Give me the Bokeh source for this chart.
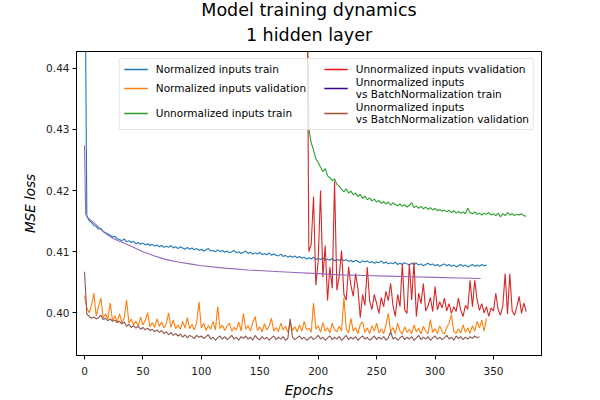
from bokeh.plotting import figure
from bokeh.models import Range1d, FixedTicker, NumeralTickFormatter, Legend, LegendItem, Title
from bokeh.embed import file_html
from bokeh.resources import INLINE

# ---------------- data ----------------
norm_epochs = list(range(0, 345, 2))
unnorm_epochs = list(range(190, 379, 2))
bn_val_epochs = list(range(0, 339, 2))
bn_train_epochs = [0, 1, 2, 3, 5, 8, 12, 16, 20, 25, 30, 35, 40, 50, 60, 70, 80, 90, 100,
                   120, 140, 160, 180, 200, 220, 240, 260, 280, 300, 320, 339]

norm_train = [
    0.4700, 0.4158, 0.4151, 0.4148, 0.4143, 0.4141, 0.4137, 0.4138, 0.4133, 0.4131,
    0.4129, 0.4127, 0.4124, 0.4125, 0.4121, 0.4120, 0.4118, 0.4121, 0.4116, 0.4118,
    0.4115, 0.4117, 0.4113, 0.4115, 0.4112, 0.4114, 0.4111, 0.4113, 0.4110, 0.4112,
    0.4109, 0.4111, 0.4108, 0.4110, 0.4107, 0.4109, 0.4107, 0.4110, 0.4106, 0.4108,
    0.4105, 0.4108, 0.4106, 0.4104, 0.4107, 0.4104, 0.4106, 0.4103, 0.4105, 0.4102,
    0.4104, 0.4101, 0.4103, 0.4105, 0.4101, 0.4102, 0.4100, 0.4103, 0.4100, 0.4102,
    0.4099, 0.4101, 0.4098, 0.4100, 0.4102, 0.4098, 0.4100, 0.4097, 0.4099, 0.4101,
    0.4097, 0.4099, 0.4096, 0.4098, 0.4096, 0.4099, 0.4095, 0.4097, 0.4095, 0.4098,
    0.4094, 0.4096, 0.4094, 0.4093, 0.4096, 0.4092, 0.4094, 0.4091, 0.4093, 0.4091,
    0.4093, 0.4090, 0.4092, 0.4089, 0.4091, 0.4088, 0.4090, 0.4088, 0.4091, 0.4087,
    0.4089, 0.4087, 0.4090, 0.4086, 0.4088, 0.4086, 0.4089, 0.4085, 0.4087, 0.4086,
    0.4088, 0.4085, 0.4087, 0.4084, 0.4086, 0.4083, 0.4086, 0.4084, 0.4082, 0.4085,
    0.4083, 0.4085, 0.4082, 0.4084, 0.4081, 0.4083, 0.4082, 0.4085, 0.4081, 0.4083,
    0.4080, 0.4082, 0.4080, 0.4083, 0.4079, 0.4081, 0.4079, 0.4082, 0.4080, 0.4078,
    0.4081, 0.4079, 0.4081, 0.4078, 0.4080, 0.4077, 0.4079, 0.4081, 0.4078, 0.4080,
    0.4077, 0.4079, 0.4076, 0.4078, 0.4080, 0.4077, 0.4079, 0.4076, 0.4078, 0.4075,
    0.4077, 0.4079, 0.4076, 0.4078, 0.4075, 0.4077, 0.4079, 0.4076, 0.4078, 0.4076,
    0.4079, 0.4077, 0.4078,
]

norm_val = [
    0.4028, 0.4008, 0.4000, 0.4012, 0.4032, 0.3995, 0.4010, 0.4024, 0.3992, 0.3998,
    0.3990, 0.4016, 0.3987, 0.3995, 0.3985, 0.3998, 0.3984, 0.3992, 0.4021, 0.3983,
    0.3990, 0.3980, 0.3986, 0.3978, 0.3993, 0.3980, 0.3988, 0.4000, 0.3977, 0.3984,
    0.3976, 0.3990, 0.3978, 0.3985, 0.3975, 0.3982, 0.4000, 0.3976, 0.3988, 0.3974,
    0.3980, 0.3973, 0.3986, 0.3975, 0.3992, 0.3974, 0.3981, 0.3972, 0.3984, 0.4018,
    0.3975, 0.3983, 0.3971, 0.3979, 0.3973, 0.3986, 0.3972, 0.4010, 0.3974, 0.3980,
    0.3971, 0.3978, 0.3983, 0.3970, 0.3976, 0.3972, 0.3985, 0.3970, 0.3999, 0.3973,
    0.3979, 0.3970, 0.3984, 0.3994, 0.3971, 0.3977, 0.3969, 0.3982, 0.3972, 0.3978,
    0.3991, 0.3970, 0.3976, 0.3969, 0.3983, 0.3972, 0.3978, 0.3968, 0.3985, 0.3971,
    0.3977, 0.3969, 0.3980, 0.3970, 0.3986, 0.3972, 0.3975, 0.3968, 0.4016, 0.3973,
    0.3979, 0.3968, 0.3984, 0.3970, 0.3976, 0.3967, 0.3983, 0.3972, 0.3969, 0.3978,
    0.3970, 0.4025, 0.3974, 0.3967, 0.3991, 0.3970, 0.3976, 0.3966, 0.3981, 0.3985,
    0.3968, 0.3975, 0.3966, 0.3979, 0.3970, 0.3983, 0.3967, 0.3974, 0.3966, 0.3980,
    0.3999, 0.3969, 0.3976, 0.3966, 0.3983, 0.3970, 0.3965, 0.3977, 0.3968, 0.3973,
    0.3966, 0.3980, 0.3969, 0.3975, 0.3965, 0.3978, 0.3970, 0.3966, 0.3989, 0.3968,
    0.3974, 0.3966, 0.3979, 0.3969, 0.3965, 0.3976, 0.3983, 0.3997, 0.3970, 0.3966,
    0.3974, 0.3967, 0.3980, 0.3968, 0.3975, 0.3966, 0.3979, 0.3970, 0.3986, 0.3975,
    0.3988, 0.3970, 0.3991,
]

unnorm_train = [
    0.4600, 0.4300, 0.4278, 0.4266, 0.4252, 0.4246, 0.4238, 0.4231, 0.4236, 0.4224,
    0.4221, 0.4216, 0.4219, 0.4210, 0.4207, 0.4202, 0.4198, 0.4203, 0.4196, 0.4199,
    0.4193, 0.4196, 0.4190, 0.4194, 0.4187, 0.4191, 0.4185, 0.4188, 0.4183, 0.4186,
    0.4181, 0.4184, 0.4179, 0.4182, 0.4178, 0.4181, 0.4176, 0.4180, 0.4177, 0.4175,
    0.4178, 0.4174, 0.4177, 0.4173, 0.4176, 0.4180, 0.4172, 0.4175, 0.4171, 0.4174,
    0.4170, 0.4173, 0.4169, 0.4172, 0.4168, 0.4171, 0.4167, 0.4169, 0.4166, 0.4168,
    0.4165, 0.4168, 0.4164, 0.4167, 0.4163, 0.4166, 0.4163, 0.4165, 0.4162, 0.4171,
    0.4164, 0.4162, 0.4165, 0.4161, 0.4163, 0.4160, 0.4163, 0.4161, 0.4164, 0.4160,
    0.4162, 0.4159, 0.4163, 0.4157, 0.4162, 0.4159, 0.4164, 0.4160, 0.4162, 0.4159,
    0.4161, 0.4160, 0.4162, 0.4159, 0.4158,
]

unnorm_val = [
    0.4700, 0.4100, 0.4112, 0.4190, 0.4045, 0.4085, 0.4200, 0.4058, 0.4110, 0.4020,
    0.4075, 0.4040, 0.4215, 0.4037, 0.4060, 0.4102, 0.4030, 0.4021, 0.4075, 0.4045,
    0.4027, 0.4064, 0.4040, 0.3992, 0.4030, 0.4012, 0.4075, 0.4020, 0.4005, 0.4030,
    0.4015, 0.3999, 0.4025, 0.4010, 0.4035, 0.4020, 0.4048, 0.4012, 0.3994, 0.4030,
    0.4010, 0.4080, 0.4005, 0.3999, 0.4080, 0.4021, 0.4083, 0.3994, 0.4032, 0.4015,
    0.4048, 0.4003, 0.4011, 0.4025, 0.4002, 0.4043, 0.4005, 0.4018, 0.4008, 0.4024,
    0.4003, 0.4015, 0.3999, 0.4010, 0.4002, 0.4024, 0.4004, 0.3994, 0.4012, 0.4006,
    0.4053, 0.4010, 0.4053, 0.4021, 0.4004, 0.4015, 0.4000, 0.4010, 0.3994, 0.4008,
    0.4003, 0.4032, 0.4005, 0.3996, 0.4012, 0.4064, 0.3998, 0.4064, 0.4003, 0.3996,
    0.4010, 0.4027, 0.3999, 0.4016, 0.4002,
]

bn_train = [
    0.4274, 0.4162, 0.4157, 0.4155, 0.4152, 0.4147, 0.4140, 0.4133, 0.4127, 0.4121,
    0.4117, 0.4113, 0.4109, 0.4100, 0.4093, 0.4087, 0.4083, 0.4080, 0.4077, 0.4073,
    0.4070, 0.4068, 0.4066, 0.4064, 0.4062, 0.4061, 0.4060, 0.4059, 0.4058, 0.4057,
    0.4056,
]

bn_val = [
    0.4067, 0.3998, 0.3994, 0.3991, 0.3993, 0.3990, 0.3992, 0.3996, 0.3989, 0.3991,
    0.3987, 0.3990, 0.3986, 0.3988, 0.3984, 0.3986, 0.3982, 0.3985, 0.3978, 0.3981,
    0.3976, 0.3979, 0.3975, 0.3978, 0.3973, 0.3976, 0.3972, 0.3975, 0.3971, 0.3973,
    0.3969, 0.3972, 0.3968, 0.3971, 0.3966, 0.3969, 0.3964, 0.3968, 0.3963, 0.3966,
    0.3962, 0.3965, 0.3960, 0.3964, 0.3959, 0.3963, 0.3961, 0.3958, 0.3963, 0.3960,
    0.3962, 0.3958, 0.3961, 0.3964, 0.3957, 0.3960, 0.3955, 0.3959, 0.3962, 0.3957,
    0.3961, 0.3956, 0.3959, 0.3963, 0.3957, 0.3960, 0.3955, 0.3961, 0.3958, 0.3962,
    0.3957, 0.3960, 0.3955, 0.3963, 0.3958, 0.3956, 0.3961, 0.3957, 0.3960, 0.3955,
    0.3959, 0.3962, 0.3956, 0.3960, 0.3957, 0.3961, 0.3955, 0.3958, 0.3990, 0.3960,
    0.3956, 0.3959, 0.3962, 0.3957, 0.3960, 0.3955, 0.3958, 0.3961, 0.3956, 0.3959,
    0.3963, 0.3957, 0.3960, 0.3955, 0.3959, 0.3962, 0.3956, 0.3960, 0.3957, 0.3961,
    0.3955, 0.3959, 0.3963, 0.3956, 0.3960, 0.3957, 0.3961, 0.3955, 0.3959, 0.3962,
    0.3957, 0.3960, 0.3955, 0.3958, 0.3962, 0.3956, 0.3960, 0.3957, 0.3961, 0.3955,
    0.3959, 0.3969, 0.3957, 0.3960, 0.3955, 0.3959, 0.3962, 0.3956, 0.3960, 0.3957,
    0.3961, 0.3955, 0.3959, 0.3963, 0.3956, 0.3960, 0.3957, 0.3961, 0.3955, 0.3959,
    0.3962, 0.3957, 0.3960, 0.3956, 0.3959, 0.3963, 0.3957, 0.3960, 0.3955, 0.3962,
    0.3958, 0.3961, 0.3956, 0.3960, 0.3957, 0.3961, 0.3958, 0.3962, 0.3959, 0.3961,
]

legend_labels = [
    "Normalized inputs train",
    "Normalized inputs validation",
    "Unnormalized inputs train",
    "Unnormalized inputs vvalidation",
    "Unnormalized inputs\nvs BatchNormalization train",
    "Unnormalized inputs\nvs BatchNormalization validation",
]
line_colors = ["#1f77b4", "#ff7f0e", "#2ca02c", "#d62728", "#9467bd", "#8c564b"]
legend_colors = ["#1f77b4", "#ff7f0e", "#2ca02c", "#e8141c", "#3f0090", "#a0522d"]

x_ticks = [0, 50, 100, 150, 200, 250, 300, 350]
y_ticks = [0.40, 0.41, 0.42, 0.43, 0.44]

FONT = "DejaVu Sans"

# ---------------- figure ----------------
p = figure(width=600, height=400, output_backend="svg", toolbar_location=None,
           title=None,
           x_range=Range1d(-6.85, 391.1), y_range=Range1d(0.39301, 0.44275),
           min_border_left=76, min_border_right=59, min_border_top=48, min_border_bottom=44,
           background_fill_color="white", border_fill_color="white")

p.add_layout(Title(text="1 hidden layer", align="center", vertical_align="top",
                   text_font=FONT, text_font_size="17.5px", text_font_style="normal",
                   text_line_height=1.0, text_color="black", standoff=8.5), "above")
p.add_layout(Title(text="Model training dynamics", align="center", vertical_align="top",
                   text_font=FONT, text_font_size="17.5px", text_font_style="normal",
                   text_line_height=1.0, text_color="black", standoff=-2), "above")

series = [
    (norm_epochs, norm_train),
    (norm_epochs, norm_val),
    (unnorm_epochs, unnorm_train),
    (unnorm_epochs, unnorm_val),
    (bn_train_epochs, bn_train),
    (bn_val_epochs, bn_val),
]
for (xs, ys), c in zip(series, line_colors):
    p.line(xs, ys, line_color=c, line_width=1.1)

# legend swatches: single-point lines (draw nothing in the plot area)
items = []
for (xs, ys), lab, c in zip(series, legend_labels, legend_colors):
    r = p.line(x=[xs[-1]], y=[ys[-1]], line_color=c, line_width=1.3)
    items.append(LegendItem(label=lab, renderers=[r]))

legend = Legend(items=items, location="top_right", ncols=2,
                label_text_font=FONT, label_text_font_size="10.5px", label_text_color="black",
                glyph_width=24, glyph_height=12, label_standoff=8, spacing=1,
                padding=4, margin=7, label_height=12, label_width=167,
                border_line_color="#cccccc", border_line_width=1,
                background_fill_color="white", background_fill_alpha=0.8)
p.add_layout(legend)

# axes
p.xaxis.ticker = FixedTicker(ticks=x_ticks)
p.yaxis.ticker = FixedTicker(ticks=y_ticks)
p.yaxis.formatter = NumeralTickFormatter(format="0.00")
p.xaxis.axis_label = "Epochs"
p.yaxis.axis_label = "MSE loss"
for ax in (p.xaxis, p.yaxis):
    ax.axis_label_text_font = FONT
    ax.axis_label_text_font_size = "13.5px"
    ax.axis_label_text_font_style = "italic"
    ax.axis_label_text_color = "black"
    ax.major_label_text_font = FONT
    ax.major_label_text_font_size = "10.5px"
    ax.major_label_text_color = "#222222"
    ax.minor_tick_line_color = None
    ax.major_tick_in = 0
    ax.major_tick_out = 4
    ax.major_tick_line_color = "black"
    ax.axis_line_color = "black"
p.xaxis.major_label_standoff = 7
p.xaxis.axis_label_standoff = 4
p.yaxis.major_label_standoff = 3
p.yaxis.axis_label_standoff = 5

p.xgrid.grid_line_color = None
p.ygrid.grid_line_color = None
p.outline_line_color = "black"
p.outline_line_alpha = 1.0

open("out.html", "w").write(file_html(p, INLINE))
